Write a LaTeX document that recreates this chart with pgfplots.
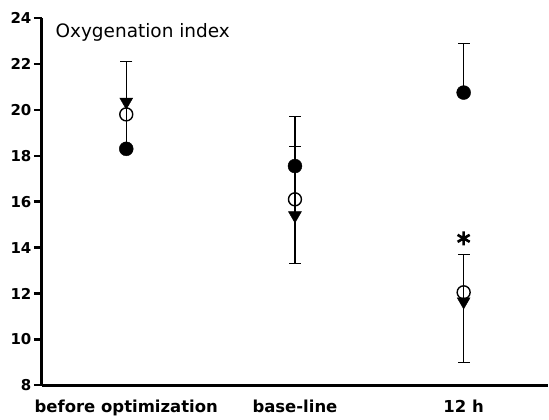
\documentclass[border=0pt]{standalone}
\usepackage{fontspec}
\setmainfont{DejaVu Sans}
\usepackage{pgfplots}
\pgfplotsset{compat=1.18}
\begin{document}
\begin{tikzpicture}
\begin{axis}[
  scale only axis, width=507pt, height=368pt,
  xmin=-0.5, xmax=2.5, ymin=8, ymax=24,
  axis lines*=left,
  axis line style={line width=3pt},
  xtick={0,1,2},
  xticklabels={before optimization, base-line, 12 h},
  major x tick style={draw=none},
  x tick label style={font=\bfseries\fontsize{16.5}{18}\selectfont, yshift=-3pt},
  ytick={8,10,...,24},
  tick align=outside,
  major tick length=8pt,
  major y tick style={line width=2.4pt, black},
  y tick label style={font=\bfseries\fontsize{15}{17}\selectfont, xshift=1pt},
  /pgf/number format/assume math mode=true,
  clip=false,
]
% connecting lines
\addplot[black, line width=1.3pt, no marks] coordinates {(0,18.3) (0,22.1)};
\addplot[black, line width=1.3pt, no marks] coordinates {(1,13.3) (1,19.7)};
\addplot[black, line width=1.3pt, no marks] coordinates {(2,20.75) (2,22.9)};
\addplot[black, line width=1.3pt, no marks] coordinates {(2,9.0) (2,13.7)};
% caps
\addplot[black, only marks, mark=-, mark size=6pt, mark options={line width=1.3pt}]
  coordinates {(0,22.1) (1,19.7) (1,18.4) (1,13.3) (2,22.9) (2,13.7) (2,9.0)};
% filled circles
\addplot[black, only marks, mark=*, mark size=7pt]
  coordinates {(0,18.3) (1,17.55) (2,20.75)};
% triangles
\addplot[black, only marks, mark=triangle*, mark size=7.5pt, mark options={rotate=180}]
  coordinates {(0,20.35) (1,15.4) (2,11.65)};
% open circles
\addplot[black, only marks, mark=o, mark size=6.5pt, mark options={fill=white, line width=1.4pt}]
  coordinates {(0,19.8) (1,16.1) (2,12.05)};
% asterisk
\addplot[black, only marks, mark=asterisk, mark size=7pt, mark options={line width=2.6pt}]
  coordinates {(2,14.4)};
\node[anchor=west, font=\fontsize{18.5}{20}\selectfont] at (axis cs:-0.44,23.35) {Oxygenation index};
\end{axis}
\pgfresetboundingbox
\path (-42pt,-34pt) rectangle (508pt,386pt);
\end{tikzpicture}
\end{document}
